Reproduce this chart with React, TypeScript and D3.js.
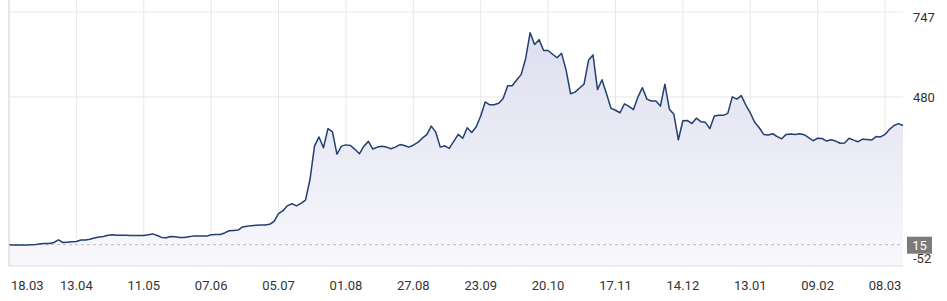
import React from "react";
import * as d3 from "d3";

const prices: number[] = [
  15, 14, 14, 14, 14, 15, 16, 18, 19, 19,
  22, 30, 22, 23, 24, 25, 30, 30, 32, 36,
  39, 41, 45, 46, 45, 45, 45, 44, 44, 44,
  44, 46, 49, 44, 38, 37, 41, 40, 38, 38,
  40, 42, 42, 42, 42, 46, 47, 47, 52, 59,
  60, 61, 71, 73, 75, 76, 77, 77, 79, 88,
  113, 122, 138, 144, 137, 145, 155, 220, 325, 354,
  320, 380, 370, 300, 325, 329, 327, 315, 301, 325,
  340, 316, 322, 325, 322, 317, 322, 330, 327, 322,
  328, 337, 350, 361, 388, 369, 322, 326, 318, 340,
  362, 350, 383, 368, 386, 420, 464, 455, 455, 460,
  475, 515, 515, 533, 550, 600, 682, 645, 660, 626,
  626, 614, 603, 617, 565, 490, 495, 508, 520, 595,
  612, 503, 534, 490, 444, 438, 430, 458, 450, 440,
  480, 509, 473, 467, 467, 451, 520, 441, 425, 345,
  405, 406, 396, 413, 402, 400, 380, 420, 422, 422,
  428, 480, 473, 484, 455, 430, 400, 383, 362, 360,
  364, 355, 348, 362, 363, 362, 364, 361, 352, 342,
  350, 349, 341, 345, 341, 334, 335, 350, 344, 339,
  347, 346, 344, 355, 354, 362, 378, 390, 396, 390,
];

const tickLabels: string[] = [
  "18.03", "13.04", "11.05", "07.06", "05.07", "01.08", "27.08",
  "23.09", "20.10", "17.11", "14.12", "13.01", "09.02", "08.03",
];
const tickStep = 15;

const yMax = 747;
const yMid = 480;
const yMin = -52;
const refValue = 15;

const W = 947;
const H = 301;
const left = 9;
const right = 903;
const top = 12;
const bottom = 266;

export default function App() {
  const x = d3.scaleLinear().domain([0, prices.length - 1]).range([left, right]);
  const y = d3.scaleLinear().domain([yMin, yMax]).range([bottom, top]);

  const line = d3
    .line<number>()
    .x((_, i) => x(i))
    .y((d) => y(d));
  const area = d3
    .area<number>()
    .x((_, i) => x(i))
    .y0(bottom)
    .y1((d) => y(d));

  const ticks = tickLabels.map((label, k) => ({ label, idx: k * tickStep }));
  const font = "Roboto, 'Open Sans', sans-serif";

  return (
    <div style={{ position: "absolute", left: 0, top: 0, width: W, height: H, background: "#fff" }}>
      <svg width={W} height={H} style={{ display: "block" }}>
        <defs>
          <linearGradient id="areaFill" gradientUnits="userSpaceOnUse" x1={0} y1={top} x2={0} y2={bottom}>
            <stop offset="0%" stopColor="#dcdcef" />
            <stop offset="100%" stopColor="#f8f8fc" />
          </linearGradient>
        </defs>
        {/* vertical gridlines */}
        {ticks.slice(1).map((t) => (
          <line key={t.label} x1={x(t.idx)} x2={x(t.idx)} y1={0} y2={bottom} stroke="#e8e8e8" strokeWidth={1} />
        ))}
        {/* horizontal gridlines */}
        {[yMax, yMid].map((v) => (
          <line key={v} x1={left} x2={right} y1={y(v)} y2={y(v)} stroke="#e8e8e8" strokeWidth={1} />
        ))}
        <path d={area(prices) || ""} fill="url(#areaFill)" />
        <line x1={left} x2={right} y1={y(refValue)} y2={y(refValue)} stroke="#bdbdbd" strokeWidth={1} strokeDasharray="3,3" />
        <path d={line(prices) || ""} fill="none" stroke="#213f70" strokeWidth={1.5} strokeLinejoin="round" />
        {/* left border and bottom axis */}
        <line x1={left} x2={left} y1={0} y2={bottom} stroke="#cfcfcf" strokeWidth={1} />
        <line x1={left} x2={right} y1={bottom} y2={bottom} stroke="#dcdcdc" strokeWidth={1} />
        {/* x labels */}
        {ticks.map((t, k) => (
          <text
            key={t.label}
            x={k === 0 ? x(t.idx) + 2 : x(t.idx)}
            y={290}
            textAnchor={k === 0 ? "start" : "middle"}
            fontFamily={font}
            fontSize={13}
            fill="#333"
          >
            {t.label}
          </text>
        ))}
        {/* y labels */}
        <text x={913} y={y(yMax) + 10} fontFamily={font} fontSize={13} fill="#333">{yMax}</text>
        <text x={913} y={y(yMid) + 5} fontFamily={font} fontSize={13} fill="#333">{yMid}</text>
        <text x={913} y={bottom - 3} fontFamily={font} fontSize={13} fill="#333">{yMin}</text>
        <rect x={907} y={y(refValue) - 8} width={25} height={17} fill="#7b7b7b" />
        <text x={919.5} y={y(refValue) + 5} textAnchor="middle" fontFamily={font} fontSize={13} fill="#fff">{refValue}</text>
      </svg>
    </div>
  );
}
